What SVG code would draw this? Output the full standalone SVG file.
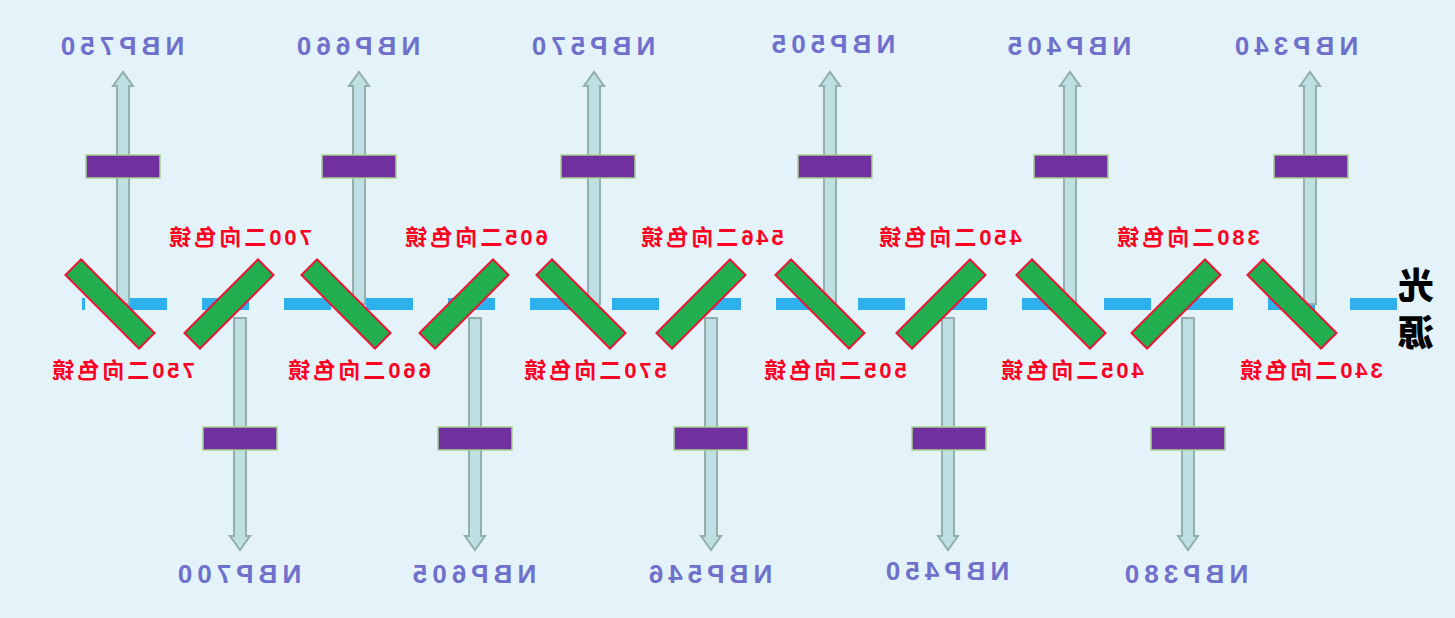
<svg xmlns="http://www.w3.org/2000/svg" width="1455" height="618" viewBox="0 0 1455 618">
<defs>
<style>
.arr{fill:#bfe0e3;stroke:#93aeae;stroke-width:2}
.flt{fill:#70309f;stroke:#a8d08d;stroke-width:1.5}
.mir{fill:#22ad4e;stroke:#ee1133;stroke-width:2}
.lbl{font-family:"Liberation Sans",Arial,sans-serif;font-weight:bold;font-size:26px;fill:#6f6fcc;text-anchor:middle;letter-spacing:5px}
.red{font-family:"Liberation Sans","Noto Sans CJK SC",sans-serif;font-weight:bold;font-size:22px;fill:#ff0022;text-anchor:middle;letter-spacing:3px}
.src{font-family:"Noto Sans CJK SC",sans-serif;font-weight:900;font-size:36px;fill:#000;text-anchor:middle}
</style>
<path id="up" d="M-6,304 V86 H-10 L0,72 L10,86 H6 V304 Z"/>
<path id="dn" d="M-6,318 V536 H-10 L0,550 L10,536 H6 V318 Z"/>
</defs>
<rect width="1455" height="618" fill="#e4f3fa"/>
<g id="connectors">
<line x1="1397" y1="304" x2="82" y2="304" stroke="#2eb0ec" stroke-width="12" stroke-dasharray="47 35"/>
<use href="#up" class="arr" x="123"/><use href="#up" class="arr" x="359"/><use href="#up" class="arr" x="594"/>
<use href="#up" class="arr" x="830"/><use href="#up" class="arr" x="1070"/><use href="#up" class="arr" x="1310"/>
<use href="#dn" class="arr" x="240"/><use href="#dn" class="arr" x="475"/><use href="#dn" class="arr" x="711"/>
<use href="#dn" class="arr" x="948"/><use href="#dn" class="arr" x="1188"/>
</g>
<g id="filters">
<rect class="flt" x="86" y="155" width="74" height="23"/><rect class="flt" x="322" y="155" width="74" height="23"/>
<rect class="flt" x="561" y="155" width="74" height="23"/><rect class="flt" x="798" y="155" width="74" height="23"/>
<rect class="flt" x="1034" y="155" width="74" height="23"/><rect class="flt" x="1274" y="155" width="74" height="23"/>
<rect class="flt" x="203" y="427" width="74" height="23"/><rect class="flt" x="438" y="427" width="74" height="23"/>
<rect class="flt" x="674" y="427" width="74" height="23"/><rect class="flt" x="912" y="427" width="74" height="23"/>
<rect class="flt" x="1151" y="427" width="74" height="23"/>
</g>
<g id="mirrors">
<rect class="mir" x="-52" y="-11" width="104" height="22" transform="translate(110,304) rotate(45)"/>
<rect class="mir" x="-52" y="-11" width="104" height="22" transform="translate(346,304) rotate(45)"/>
<rect class="mir" x="-52" y="-11" width="104" height="22" transform="translate(581,304) rotate(45)"/>
<rect class="mir" x="-52" y="-11" width="104" height="22" transform="translate(820,304) rotate(45)"/>
<rect class="mir" x="-52" y="-11" width="104" height="22" transform="translate(1061,304) rotate(45)"/>
<rect class="mir" x="-52" y="-11" width="104" height="22" transform="translate(1292,304) rotate(45)"/>
<rect class="mir" x="-52" y="-11" width="104" height="22" transform="translate(229,304) rotate(-45)"/>
<rect class="mir" x="-52" y="-11" width="104" height="22" transform="translate(464,304) rotate(-45)"/>
<rect class="mir" x="-52" y="-11" width="104" height="22" transform="translate(701,304) rotate(-45)"/>
<rect class="mir" x="-52" y="-11" width="104" height="22" transform="translate(941,304) rotate(-45)"/>
<rect class="mir" x="-52" y="-11" width="104" height="22" transform="translate(1176,304) rotate(-45)"/>
</g>
<g id="labels" transform="scale(-1,1)">
<text class="lbl" x="-120" y="55">NBP750</text><text class="lbl" x="-356" y="55">NBP660</text>
<text class="lbl" x="-591" y="55">NBP570</text><text class="lbl" x="-831" y="53">NBP505</text>
<text class="lbl" x="-1067" y="55">NBP405</text><text class="lbl" x="-1294" y="55">NBP340</text>
<text class="lbl" x="-237" y="583">NBP700</text><text class="lbl" x="-472" y="583">NBP605</text>
<text class="lbl" x="-708" y="583">NBP546</text><text class="lbl" x="-945" y="580">NBP450</text>
<text class="lbl" x="-1184" y="583">NBP380</text>
<text class="red" x="-239" y="245">700二向色镜</text><text class="red" x="-475" y="245">605二向色镜</text>
<text class="red" x="-711" y="245">546二向色镜</text><text class="red" x="-949" y="245">450二向色镜</text>
<text class="red" x="-1187" y="245">380二向色镜</text>
<text class="red" x="-122" y="378">750二向色镜</text><text class="red" x="-358" y="378">660二向色镜</text>
<text class="red" x="-594" y="378">570二向色镜</text><text class="red" x="-834" y="378">505二向色镜</text>
<text class="red" x="-1071" y="378">405二向色镜</text><text class="red" x="-1310" y="378">340二向色镜</text>
<text class="src" x="-1416" y="299">光</text><text class="src" x="-1416" y="346">源</text>
</g>
</svg>
